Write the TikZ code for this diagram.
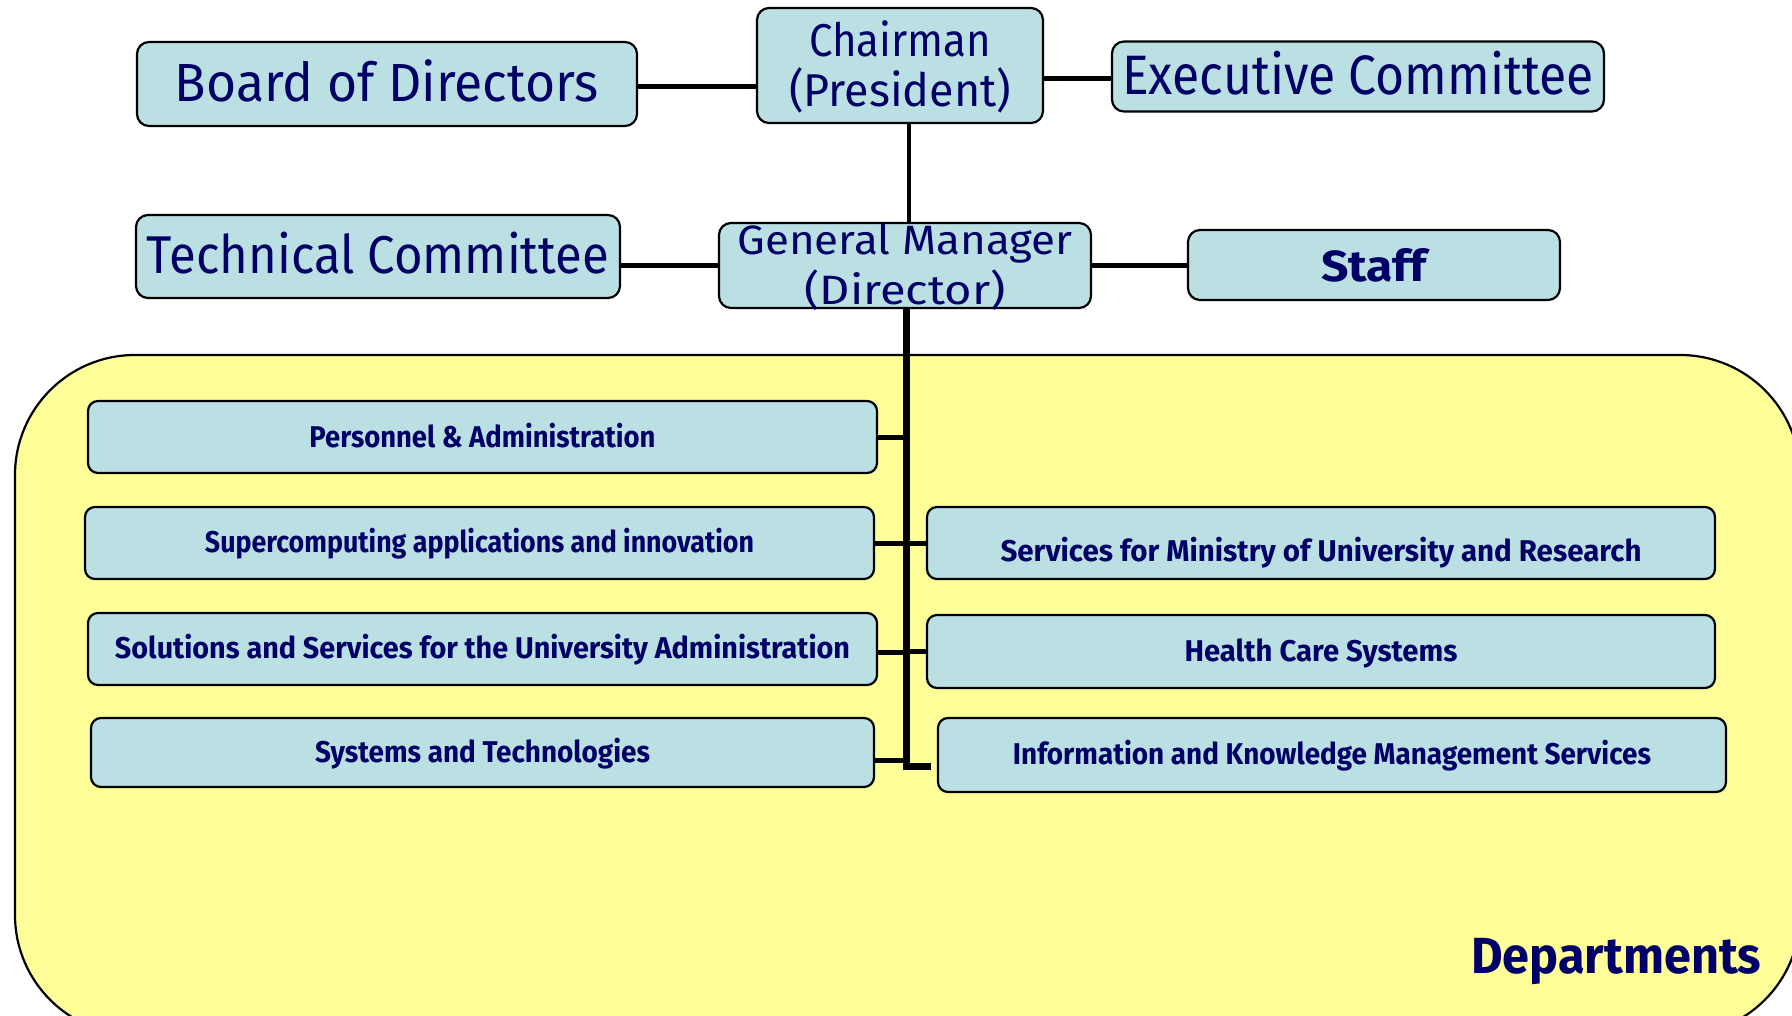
\documentclass[tikz,border=0pt]{standalone}
\usepackage{fontspec}
\setmainfont{Fira Sans}
\usepackage{graphicx}
\usetikzlibrary{backgrounds}
\definecolor{navy}{HTML}{000066}
\definecolor{boxblue}{HTML}{BBE0E3}
\definecolor{paleyellow}{HTML}{FFFF99}
\newcommand{\fitw}[2]{\resizebox{#1}{\height}{#2}}
\newcommand{\twolines}[3]{\vtop{\baselineskip=#1\lineskiplimit=-1000pt\lineskip=0pt\hbox to 0pt{\hss#2\hss}\hbox to 0pt{\hss#3\hss}}}
\tikzset{
  orgbox/.style={draw=black, line width=2.2pt, fill=boxblue, rounded corners=12pt, text=navy, inner sep=0pt, outer sep=0pt, text depth=0pt},
  deptbox/.style={orgbox, rounded corners=10pt, font=\fontsize{30}{36}\selectfont\bfseries},
  link/.style={draw=black, line width=5pt},
  trunkline/.style={draw=black, line width=7pt},
  areabox/.style={draw=black, line width=2.2pt, fill=paleyellow, rounded corners=120pt, inner sep=0pt, outer sep=0pt, anchor=north west}
}
\begin{document}
\begin{tikzpicture}[x=1pt, y=-1pt]
\useasboundingbox (0,0) rectangle (1792,1016);
% top level
\node[orgbox, minimum width=286pt, minimum height=115pt, text height=0pt, text depth=17.6pt, font=\fontsize{46}{50}\selectfont] (chair) at (900,65.5)
  {\twolines{50pt}{\fitw{182pt}{Chairman}}{\fitw{222pt}{(President)}}};
\node[orgbox, minimum width=500pt, minimum height=84pt, text height=35.4pt, font=\fontsize{53.7}{60}\selectfont] (board) at (387,84) {\fitw{424pt}{Board of Directors}};
\node[orgbox, minimum width=492pt, minimum height=70pt, text height=37pt, font=\fontsize{55.6}{60}\selectfont] (exec) at (1358,76.5) {\fitw{472pt}{Executive Committee}};
\node[orgbox, minimum width=484pt, minimum height=83pt, text height=33.6pt, font=\fontsize{53.2}{60}\selectfont] (tech) at (378,256.5) {\fitw{462pt}{Technical Committee}};
\node[orgbox, minimum width=372pt, minimum height=85pt, text height=0pt, text depth=21pt, font=\fontsize{41}{50}\selectfont] (gm) at (905,265.5)
  {\twolines{50pt}{\fitw{335pt}{General Manager}}{\fitw{201pt}{(Director)}}};
\node[orgbox, minimum width=372pt, minimum height=70pt, text height=33.4pt, font=\fontsize{43.5}{50}\selectfont\bfseries] (staff) at (1374,265) {\fitw{106pt}{Staff}\hspace{18pt}};
% departments
\node[deptbox, minimum width=789pt, minimum height=72pt, text height=20pt] (pers) at (482.5,437) {\fitw{346pt}{Personnel \& Administration}};
\node[deptbox, minimum width=789pt, minimum height=72pt, text height=18pt] (sup) at (479.5,543) {\fitw{549pt}{Supercomputing applications and innovation}};
\node[deptbox, minimum width=789pt, minimum height=72pt, text height=18pt] (sol) at (482.5,649) {\fitw{735pt}{Solutions and Services for the University Administration}};
\node[deptbox, minimum width=783pt, minimum height=69pt, text height=19pt] (sys) at (482.5,752.5) {\fitw{335pt}{Systems and Technologies}};
\node[deptbox, minimum width=788pt, minimum height=72pt, text height=36pt] (serv) at (1321,543) {\fitw{641pt}{Services for Ministry of University and Research}};
\node[deptbox, minimum width=788pt, minimum height=73pt, text height=19pt] (health) at (1321,651.5) {\fitw{273pt}{Health Care Systems}};
\node[deptbox, minimum width=788pt, minimum height=74pt, text height=18pt] (info) at (1332,755) {\fitw{638pt}{Information and Knowledge Management Services}};
\node[text=navy, font=\fontsize{50.8}{56}\selectfont\bfseries, anchor=base west, inner sep=0pt] (deptlabel) at (1471,973) {\fitw{290pt}{Departments}};
\coordinate (spineA) at (909,0);
\coordinate (spineB) at (906,0);
\coordinate (trunkend) at (906,766);
\begin{pgfonlayer}{background}
\fill[white] (0,0) rectangle (1792,1016);
\node[areabox, minimum width=1785pt, minimum height=680pt] (area) at (15,355) {};
\draw[link] ([yshift=-3pt]board.east) -- ([yshift=-3pt]board.east -| chair.west);
\draw[link] ([yshift=-2.5pt]exec.west) -- ([yshift=-2.5pt]exec.west -| chair.east);
\draw[draw=black, line width=4.5pt] (chair.south -| spineA) -- (gm.north -| spineA);
\draw[link] (gm.west) -- (gm.west -| tech.east);
\draw[link] (gm.east) -- (gm.east -| staff.west);
\draw[trunkline] (gm.south -| spineB) -- (trunkend) -- ([xshift=-7pt]trunkend -| info.west);
\draw[link] (pers.east) -- (pers.east -| spineB);
\draw[link] (sup.east) -- (sup.east -| spineB);
\draw[link] ([yshift=-3pt]sol.east) -- ([yshift=-3pt]sol.east -| spineB);
\draw[link] ([yshift=-8pt]sys.east) -- ([yshift=-8pt]sys.east -| spineB);
\draw[link] (serv.west) -- (serv.west -| spineB);
\draw[link] (health.west) -- (health.west -| spineB);
\end{pgfonlayer}
\end{tikzpicture}
\end{document}
